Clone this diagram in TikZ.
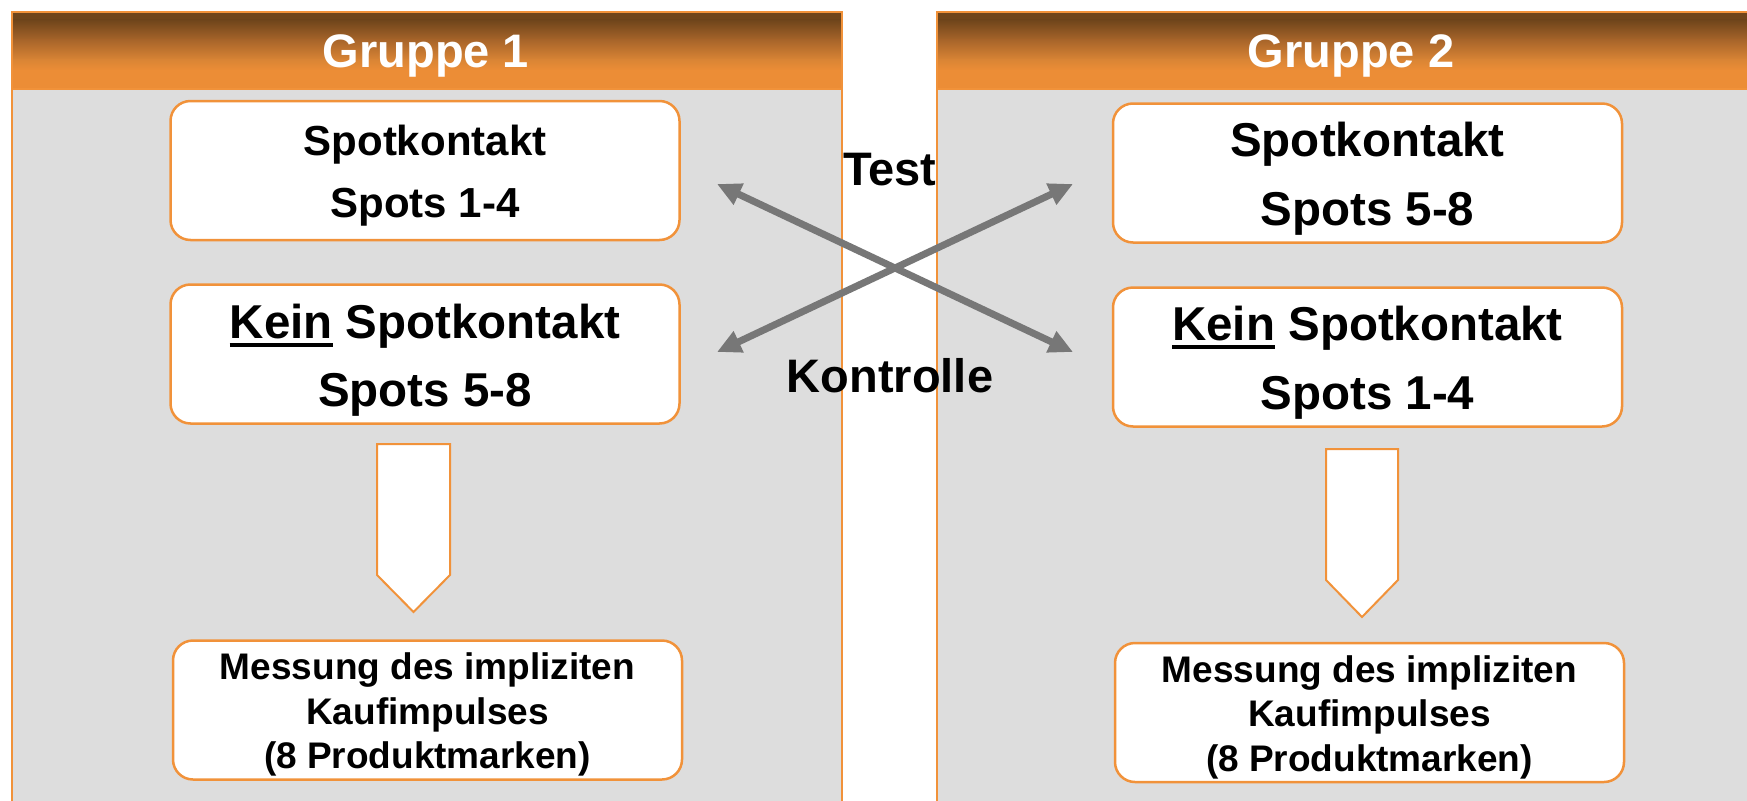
\documentclass[tikz,border=0pt]{standalone}
\usepackage{fontspec}
\setmainfont{Liberation Sans}
\usetikzlibrary{arrows.meta}

\definecolor{panelgray}{HTML}{DDDDDD}
\definecolor{orangeline}{HTML}{F1923A}
\definecolor{hdrtop}{HTML}{6F451B}
\definecolor{hdrmid}{HTML}{A8652A}
\definecolor{hdrlower}{HTML}{DA8535}
\definecolor{hdrlow}{HTML}{EC8D36}
\definecolor{crossgray}{HTML}{777777}

\newcommand\fsz[1]{\fontsize{#1}{#1}\selectfont\bfseries}
% thick underline for a word
\newcommand\thickul[1]{\setbox0\hbox{#1}\rlap{\rule[-9.4pt]{\wd0}{4.4pt}}\box0\relax}
% header gradient in bands, from x=#1 to x=#2 (top y=11, bottom y=88)
\newcommand\headerfill[2]{%
  \fill[hdrtop] (#1,11) rectangle (#2,20.5);
  \shade[top color=hdrtop, bottom color=hdrmid] (#1,20) rectangle (#2,40.5);
  \shade[top color=hdrmid, bottom color=hdrlower] (#1,40) rectangle (#2,60.5);
  \shade[top color=hdrlower, bottom color=hdrlow] (#1,60) rectangle (#2,70.5);
  \fill[hdrlow] (#1,70) rectangle (#2,88);}

\begin{document}
\begin{tikzpicture}[x=1pt,y=-1pt,
  panel/.style={fill=panelgray, draw=orangeline, line width=2pt, inner sep=0pt,
    anchor=north west, minimum width=830pt, minimum height=800pt},
  header/.style={draw=orangeline, line width=2pt, inner sep=0pt,
    anchor=north west, minimum width=830pt, minimum height=77pt},
  headtext/.style={anchor=base, text=white, font=\fsz{47}, inner sep=0pt},
  card/.style={draw=orangeline, fill=white, line width=2.5pt, rounded corners=20pt,
    inner sep=0pt, minimum width=509pt, minimum height=139pt},
  bigline/.style={anchor=base, font=\fsz{47.5}, inner sep=0pt},
  smallline/.style={anchor=base, font=\fsz{42}, inner sep=0pt},
  measline/.style={anchor=base, font=\fsz{37}, inner sep=0pt},
  blockarrow/.style={draw=orangeline, fill=white, line width=2pt, line join=miter},
  cross/.style={draw=crossgray, line width=7pt,
    {Triangle[length=24pt,width=22pt]}-{Triangle[length=24pt,width=22pt]}},
  crosslabel/.style={anchor=base, font=\fsz{47}, inner sep=0pt}
]
\useasboundingbox (0,0) rectangle (1747,800);
\clip (0,0) rectangle (1747,800);

% the two group panels
\node[panel] (p1) at (11,11) {};
\node[panel] (p2) at (936,11) {};
\headerfill{11}{841}
\headerfill{936}{1766}
\node[header] (h1) at (11,11) {};
\node[header] (h2) at (936,11) {};
\node[headtext] (h1t) at (426,67) {Gruppe 1};
\node[headtext] (h2t) at (1351,67) {Gruppe 2};

% group 1
\node[card] (g1a) at (425,170.5) {};
\node[smallline] (g1a1) at (425,155) {Spotkontakt};
\node[smallline] (g1a2) at (425,217) {Spots 1-4};

\node[card] (g1b) at (425,354) {};
\node[bigline] (g1b1) at (425,338) {\thickul{Kein} Spotkontakt};
\node[bigline] (g1b2) at (425,406) {Spots 5-8};

\draw[blockarrow] (377,444) -- (450,444) -- (450,575) -- (413.5,612) -- (377,575) -- cycle;

\node[card] (g1c) at (427.5,710) {};
\node[measline] (g1c1) at (427.5,679) {Messung des impliziten};
\node[measline] (g1c2) at (427.5,724) {Kaufimpulses};
\node[measline] (g1c3) at (427.5,768) {(8 Produktmarken)};

% group 2
\node[card] (g2a) at (1367.5,173) {};
\node[bigline] (g2a1) at (1367.5,156) {Spotkontakt};
\node[bigline] (g2a2) at (1367.5,225) {Spots 5-8};

\node[card] (g2b) at (1367.5,357) {};
\node[bigline] (g2b1) at (1367.5,340) {\thickul{Kein} Spotkontakt};
\node[bigline] (g2b2) at (1367.5,409) {Spots 1-4};

\draw[blockarrow] (1326,449) -- (1398,449) -- (1398,580) -- (1362,617) -- (1326,580) -- cycle;

\node[card] (g2c) at (1369.5,712.5) {};
\node[measline] (g2c1) at (1369.5,682) {Messung des impliziten};
\node[measline] (g2c2) at (1369.5,726) {Kaufimpulses};
\node[measline] (g2c3) at (1369.5,771) {(8 Produktmarken)};

% crossing assignment arrows
\coordinate (ul) at (717,184);
\coordinate (ur) at (1073,184);
\coordinate (ll) at (717,352);
\coordinate (lr) at (1073,352);
\draw[cross] (ul) -- (lr);
\draw[cross] (ll) -- (ur);

\node[crosslabel] (test) at (890,185) {Test};
\node[crosslabel] (kontrolle) at (890,392) {Kontrolle};
\end{tikzpicture}
\end{document}
